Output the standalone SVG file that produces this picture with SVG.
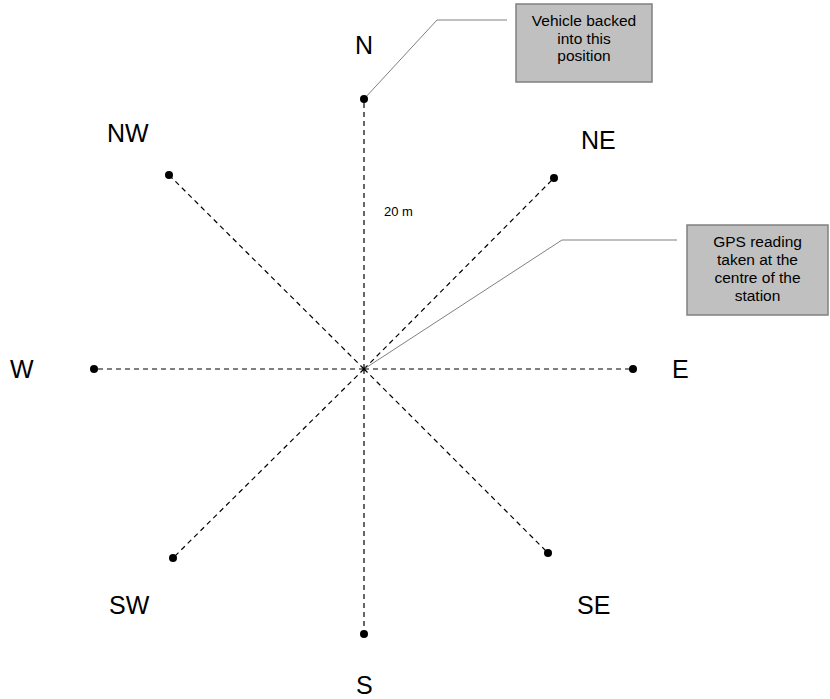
<svg xmlns="http://www.w3.org/2000/svg" width="830" height="699" viewBox="0 0 830 699">
<style>
.ray{stroke:#000;stroke-width:1.2;stroke-dasharray:5,4;fill:none}
.lead{stroke:#808080;stroke-width:1;fill:none}
.dot{fill:#000}
.lbl{font-family:"Liberation Sans",Arial,sans-serif;font-size:25px;fill:#000}
.box{fill:#c0c0c0;stroke:#808080;stroke-width:1.5}
.bt{font-family:"Liberation Sans",Arial,sans-serif;font-size:15.5px;fill:#000;text-anchor:middle}
.sm{font-family:"Liberation Sans",Arial,sans-serif;font-size:13px;fill:#000}
</style>
<rect width="830" height="699" fill="#fff"/>
<g id="connectors">
<line class="ray" x1="364" y1="369" x2="364" y2="99"/>
<line class="ray" x1="364" y1="369" x2="554" y2="178"/>
<line class="ray" x1="364" y1="369" x2="169" y2="175"/>
<line class="ray" x1="364" y1="369" x2="94" y2="369"/>
<line class="ray" x1="364" y1="369" x2="633" y2="369"/>
<line class="ray" x1="364" y1="369" x2="173" y2="558"/>
<line class="ray" x1="364" y1="369" x2="548" y2="553"/>
<line class="ray" x1="364" y1="369" x2="364" y2="634"/>
<polyline class="lead" points="364,99 437,20 507,20"/>
<polyline class="lead" points="364,369 562,240 677,240"/>
</g>
<g id="center"><circle class="dot" cx="364" cy="369" r="1.5"/></g>
<g id="N"><circle class="dot" cx="364" cy="99" r="4"/><text class="lbl" x="355" y="54">N</text></g>
<g id="NE"><circle class="dot" cx="554" cy="178" r="4"/><text class="lbl" x="581" y="149">NE</text></g>
<g id="NW"><circle class="dot" cx="169" cy="175" r="4"/><text class="lbl" x="107" y="142">NW</text></g>
<g id="W"><circle class="dot" cx="94" cy="369" r="4"/><text class="lbl" x="10" y="378">W</text></g>
<g id="E"><circle class="dot" cx="633" cy="369" r="4"/><text class="lbl" x="672" y="378">E</text></g>
<g id="SW"><circle class="dot" cx="173" cy="558" r="4"/><text class="lbl" x="109" y="614">SW</text></g>
<g id="SE"><circle class="dot" cx="548" cy="553" r="4"/><text class="lbl" x="577" y="614">SE</text></g>
<g id="S"><circle class="dot" cx="364" cy="634" r="4"/><text class="lbl" x="356" y="694">S</text></g>
<g id="dist"><text class="sm" x="384" y="216">20 m</text></g>
<g id="note-vehicle">
<rect class="box" x="516" y="4" width="136" height="78"/>
<text class="bt" x="584" y="26">Vehicle backed</text>
<text class="bt" x="584" y="43.5">into this</text>
<text class="bt" x="584" y="61">position</text>
</g>
<g id="note-gps">
<rect class="box" x="687" y="225" width="141" height="90"/>
<text class="bt" x="757.5" y="247">GPS reading</text>
<text class="bt" x="757.5" y="265">taken at the</text>
<text class="bt" x="757.5" y="283">centre of the</text>
<text class="bt" x="757.5" y="301">station</text>
</g>
</svg>
